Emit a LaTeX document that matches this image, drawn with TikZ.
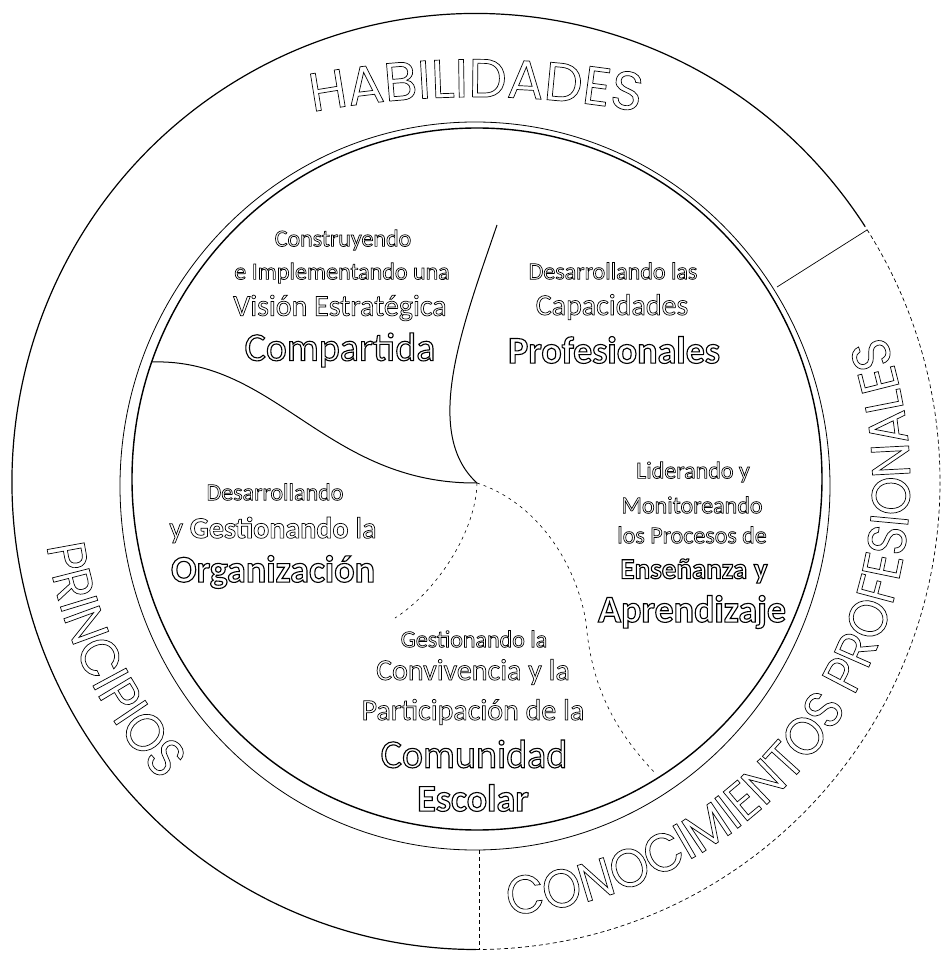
\documentclass[tikz,border=0pt]{standalone}
\usepackage{fontspec}
\setmainfont{Carlito}
\newfontfamily\habfont{Poppins}
\newfontfamily\ringfont{Poppins}[FakeStretch=0.92]
\usetikzlibrary{decorations.text}
\newcommand\outlThin{\special{pdf:literal direct 1 Tr 0.7 w}}
\newcommand\outlThick{\special{pdf:literal direct 1 Tr 1.1 w}}
\tikzset{
  lbl/.style={inner sep=0pt, anchor=center},
  sm/.style={lbl, font=\fontsize{24}{28}\selectfont\outlThin},
  md/.style={lbl, font=\fontsize{30}{34}\selectfont\outlThin},
  mdb/.style={lbl, font=\bfseries\fontsize{29}{34}\selectfont\outlThick},
  bg/.style={lbl, font=\fontsize{40}{44}\selectfont\outlThick},
  bgb/.style={lbl, font=\bfseries\fontsize{38}{44}\selectfont\outlThick},
  ringline/.style={line width=1.2pt},
  faintline/.style={line width=0.7pt, dash pattern=on 4pt off 3pt},
  curve/.style={line width=1pt},
  dcurve/.style={line width=0.6pt, dash pattern=on 3pt off 4pt},
}
\begin{document}
\begin{tikzpicture}[x=1pt,y=1pt]
\useasboundingbox (-476,482) rectangle (466,-476);
% outer circle
\draw[ringline] (0,0.5) ++(33:464 and 468) arc[start angle=33,end angle=270,x radius=464,y radius=468];
\draw[faintline] (0,0.5) ++(-90:464 and 468) arc[start angle=-90,end angle=33,x radius=464,y radius=468];
% inner double ring
\draw[line width=0.8pt] (-1,-4) ellipse[x radius=355,y radius=364];
\draw[line width=1.4pt] (1,3) ellipse[x radius=345,y radius=351];
% dividers of the outer ring
\coordinate (d1a) at (301,195);
\coordinate (d1b) at (391,252);
\coordinate (d2a) at (3,-368);
\coordinate (d2b) at (3,-468);
\draw[line width=0.7pt] (d1a) -- (d1b);
\draw[faintline] (d2a) -- (d2b);
% inner curves
\coordinate (J) at (1,-1);
\coordinate (c1s) at (21,257);
\coordinate (c2s) at (-324,120);
\coordinate (c3m) at (110,-140);
\coordinate (c3e) at (180,-292);
\coordinate (c4e) at (-81,-136);
\draw[curve] (c1s) .. controls (-12,160) and (-55,50) .. (J);
\draw[curve] (c2s) .. controls (-200,124) and (-150,-2) .. (J);
\draw[dcurve] (J) .. controls (60,-20) and (100,-80) .. (c3m) .. controls (115,-200) and (135,-245) .. (c3e);
\draw[dcurve] (J) .. controls (0,-50) and (-40,-110) .. (c4e);
% ring labels
\path[decorate,decoration={text along path,text align=center,
  text={|\habfont\fontsize{54}{54}\selectfont\outlThin|HABILIDADES}}]
  (0,-515) ++(105:900) arc[start angle=105,end angle=75,radius=900];
\path[decorate,decoration={text along path,text align=center,
  text={|\ringfont\fontsize{54}{54}\selectfont\outlThin|PRINCIPIOS}}]
  (156:434) arc[start angle=156,end angle=256,radius=434];
\path[decorate,decoration={text along path,text align=center,
  text={|\ringfont\fontsize{54}{54}\selectfont\outlThin|CONOCIMIENTOS PROFESIONALES}}]
  (-103:434) arc[start angle=-103,end angle=37,radius=434];
% block 1
\node[sm] (a1) at (-133,242) {Construyendo};
\node[sm] (a2) at (-134,209) {e Implementando una};
\node[md] (a3) at (-136,174) {Visión Estratégica};
\node[bg] (a4) at (-136,132) {Compartida};
% block 2
\node[sm] (b1) at (137,211) {Desarrollando las};
\node[md] (b2) at (136,175) {Capacidades};
\node[bgb] (b3) at (138,132) {Profesionales};
% block 3
\node[sm] (e1) at (-201,-10) {Desarrollando};
\node[md] (e2) at (-203,-48) {y \textbf{Gestionando} la};
\node[bgb] (e3) at (-203,-90) {Organización};
% block 4
\node[sm] (f1) at (217,10) {Liderando y};
\node[sm] (f2) at (216,-23) {Monitoreando};
\node[sm] (f3) at (216,-53) {los Procesos de};
\node[mdb] (f4) at (218,-89) {Enseñanza y};
\node[bgb] (f5) at (216,-130) {Aprendizaje};
% block 5
\node[sm] (g1) at (-2,-157) {Gestionando la};
\node[md] (g2) at (-3,-190) {Convivencia y la};
\node[md] (g3) at (-3,-230) {Participación de la};
\node[bg] (g4) at (-2,-272) {Comunidad};
\node[bgb] (g5) at (-3,-316) {Escolar};
\end{tikzpicture}
\end{document}
